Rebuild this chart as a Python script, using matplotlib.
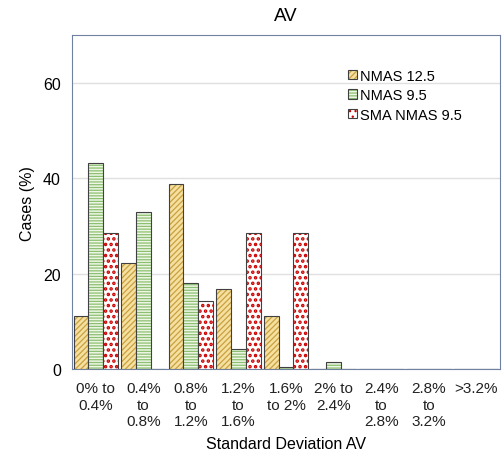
import numpy as np
import matplotlib
matplotlib.use("Agg")
import matplotlib.pyplot as plt

plt.rcParams['font.family'] = ['Liberation Sans', 'DejaVu Sans']
plt.rcParams['hatch.linewidth'] = 0.9

categories = ["0% to\n0.4%", "0.4%\nto\n0.8%", "0.8%\nto\n1.2%", "1.2%\nto\n1.6%",
              "1.6%\nto 2%", "2% to\n2.4%", "2.4%\nto\n2.8%", "2.8%\nto\n3.2%", ">3.2%"]
nmas_125 = [11.1, 22.2, 38.9, 16.7, 11.1, 0, 0, 0, 0]
nmas_95 = [43.3, 33.0, 18.0, 4.1, 0.4, 1.4, 0, 0, 0]
sma_95 = [28.6, 0, 14.3, 28.6, 28.6, 0, 0, 0, 0]

fig = plt.figure(figsize=(5.03, 4.56), dpi=100)
ax = fig.add_axes([0.143, 0.189, 0.851, 0.731])

x = np.arange(len(categories))
w = 0.31
edge = '#404040'
ax.bar(x - w, nmas_125, w, color='#f5e0a0', edgecolor=edge, hatch='//////', linewidth=0.8,
       label='NMAS 12.5', zorder=3)
ax.bar(x, nmas_95, w, color='#eef6e6', edgecolor=edge, hatch='------', linewidth=0.8,
       label='NMAS 9.5', zorder=3)
plt.rcParams['hatch.linewidth'] = 1.7
ax.bar(x + w, sma_95, w, color='white', edgecolor=edge, hatch='...', linewidth=0.8,
       label='SMA NMAS 9.5', zorder=3)
plt.rcParams['hatch.linewidth'] = 0.9

# hatch colours
for cont, hc in zip(ax.containers, ['#c9a040', '#8cc070', '#cc0000']):
    for p in cont:
        p._hatch_color = matplotlib.colors.to_rgba(hc)

ax.set_xlim(-0.5, len(categories) - 0.5)
ax.set_ylim(0, 70)
ax.set_yticks([0, 20, 40, 60])
ax.set_xticks(x)
ax.set_xticklabels(categories, fontsize=11, color='#222222', linespacing=1.2)
ax.tick_params(axis='y', length=0, labelsize=11.5, pad=8)
ax.tick_params(axis='x', length=0, pad=9)
ax.yaxis.grid(True, color='#e0e0e0', linewidth=1, zorder=0)
for s in ax.spines.values():
    s.set_color('#7080a0')

ax.set_title('AV', fontsize=13.5, pad=11)
ax.set_ylabel('Cases (%)', fontsize=11.5, labelpad=6)
ax.set_xlabel('Standard Deviation AV', fontsize=11.5, labelpad=6)

ax.legend(loc='upper left', bbox_to_anchor=(0.615, 0.94), frameon=False, fontsize=10.5,
          handlelength=0.6, handleheight=0.6, handletextpad=0.2, labelspacing=0.38)

fig.savefig('out.png', dpi=100)
